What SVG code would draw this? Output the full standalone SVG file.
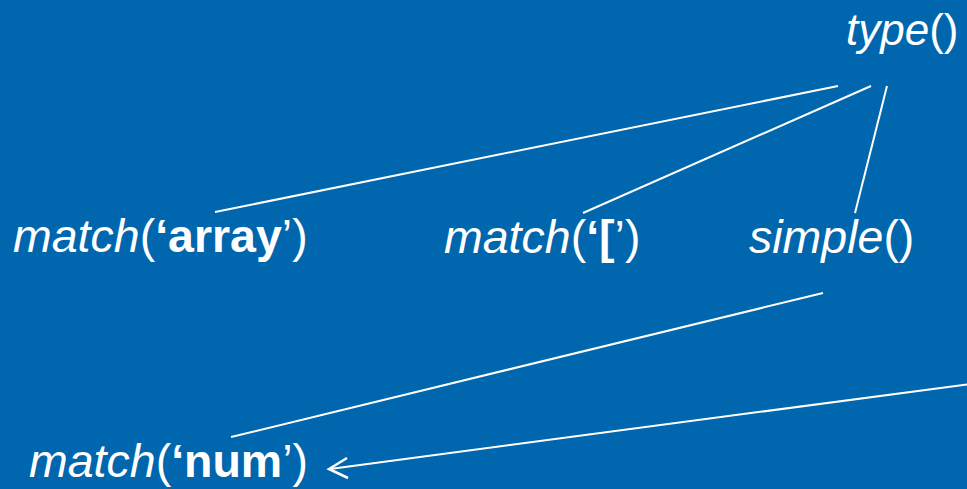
<svg xmlns="http://www.w3.org/2000/svg" width="967" height="489" viewBox="0 0 967 489">
<style>
.t{font-family:"Liberation Sans",Arial,sans-serif;font-size:46.5px;fill:#fff}
.s{font-size:44px}
.i{font-style:italic}
.b{font-weight:bold}
.c{stroke:#fff;stroke-width:2;fill:none}
</style>
<rect width="967" height="489" fill="#0066AD"/>
<g id="connectors" class="c">
<line x1="838" y1="86" x2="215" y2="212"/>
<line x1="871" y1="86" x2="583" y2="213"/>
<line x1="887" y1="86" x2="855" y2="213"/>
<line x1="823" y1="293" x2="231" y2="437"/>
<line x1="970" y1="384" x2="330" y2="469"/>
<polyline points="347,458 329,469 348,478" stroke-width="2.5"/>
</g>
<g id="type"><text class="t s" x="846" y="45"><tspan class="i">type</tspan>()</text></g>
<g id="match-array"><text class="t" x="13" y="252"><tspan class="i">match</tspan>(<tspan class="b">‘array</tspan>’)</text></g>
<g id="match-bracket"><text class="t" x="444" y="253"><tspan class="i">match</tspan>(<tspan class="b">‘[</tspan>’)</text></g>
<g id="simple"><text class="t" x="749" y="253"><tspan class="i">simple</tspan>()</text></g>
<g id="match-num"><text class="t" x="29" y="477"><tspan class="i">match</tspan>(<tspan class="b">‘num</tspan>’)</text></g>
</svg>
